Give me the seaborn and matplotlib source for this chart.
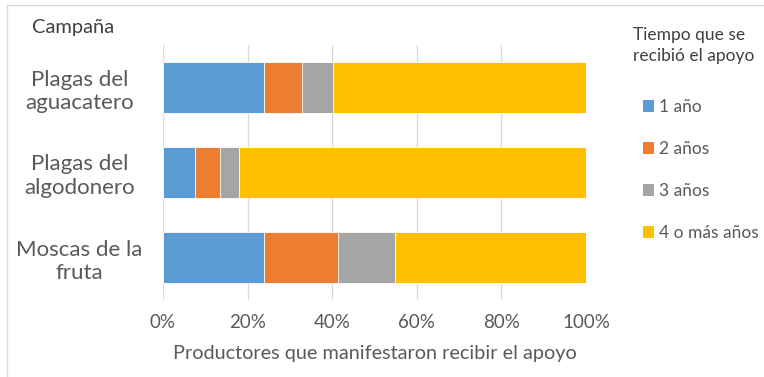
#!/usr/bin/env python3

import pandas as pd
import seaborn as sns
import matplotlib.pyplot as plt
from matplotlib.lines import Line2D
from matplotlib.patches import Patch

sns.set_theme(style="white")
plt.rcParams['font.family'] = ['Lato', 'DejaVu Sans']

# data (percent of producers)
campanas = ["Plagas del\naguacatero", "Plagas del\nalgodonero", "Moscas de la\nfruta"]
un_anio = [23.8, 7.6, 23.8]
dos_anios = [9.0, 5.9, 17.5]
tres_anios = [7.4, 4.4, 13.5]
cuatro_mas = [59.8, 82.1, 45.2]
series = ["1 año", "2 años", "3 años", "4 o más años"]
colores = ["#5B9BD5", "#ED7D31", "#A5A5A5", "#FFC000"]
ticks = [0, 20, 40, 60, 80, 100]

df = pd.DataFrame({"campana": campanas, series[0]: un_anio, series[1]: dos_anios,
                   series[2]: tres_anios, series[3]: cuatro_mas})
acum = df[series].cumsum(axis=1)
acum["campana"] = df["campana"]

fig = plt.figure(figsize=(7.64, 3.77), dpi=100)
ax = fig.add_axes([163 / 764, 1 - 300 / 377, 423 / 764, 255 / 377])

# stacked bars: draw longest cumulative first, shorter on top
for s, c in reversed(list(zip(series, colores))):
    sns.barplot(data=acum, x=s, y="campana", orient="h", color=c, width=0.59,
                edgecolor="white", linewidth=0.6, ax=ax, saturation=1)

ax.set_xlim(0, 100)
ax.set_ylim(2.5, -0.5)
ax.set_xticks(ticks)
ax.set_xticklabels([f"{t}%" for t in ticks])
ax.grid(axis="x", color="#D9D9D9", linewidth=0.9)
ax.set_axisbelow(True)
for sp in ax.spines.values():
    sp.set_visible(False)

ax.tick_params(axis="x", length=0, pad=10, labelsize=13.5, labelcolor="#595959")
ax.tick_params(axis="y", length=0, pad=60, labelsize=16, labelcolor="#595959")
for lab in ax.get_yticklabels():
    lab.set_ha("center")
    lab.set_multialignment("center")
    lab.set_linespacing(1.2)

ax.set_ylabel("")
ax.set_xlabel("Productores que manifestaron recibir el apoyo", fontsize=14.3,
              color="#595959", labelpad=10)

fig.text(32 / 764, 1 - 33 / 377, "Campaña", fontsize=14.5, color="#404040", va="baseline")
fig.text(633 / 764, 1 - 27 / 377, "Tiempo que se\nrecibió el apoyo", fontsize=12.5,
         color="#404040", va="top", linespacing=1.35)

handles = [Patch(facecolor=c, edgecolor="none") for c in colores]
fig.legend(handles, series, loc="upper left", bbox_to_anchor=(643 / 764, 1 - 99 / 377),
           bbox_transform=fig.transFigure, frameon=False, fontsize=12.5,
           labelcolor="#595959", handlelength=0.65, handleheight=0.65,
           handletextpad=0.3, labelspacing=1.5, borderpad=0, borderaxespad=0)

# chart area border (left and top edges visible in the crop)
fig.add_artist(Line2D([7 / 764, 7 / 764], [0, 1 - 5 / 377], color="#D9D9D9", lw=1))
fig.add_artist(Line2D([7 / 764, 1], [1 - 5 / 377, 1 - 5 / 377], color="#D9D9D9", lw=1))

fig.savefig("out.png", dpi=100, facecolor="white")
